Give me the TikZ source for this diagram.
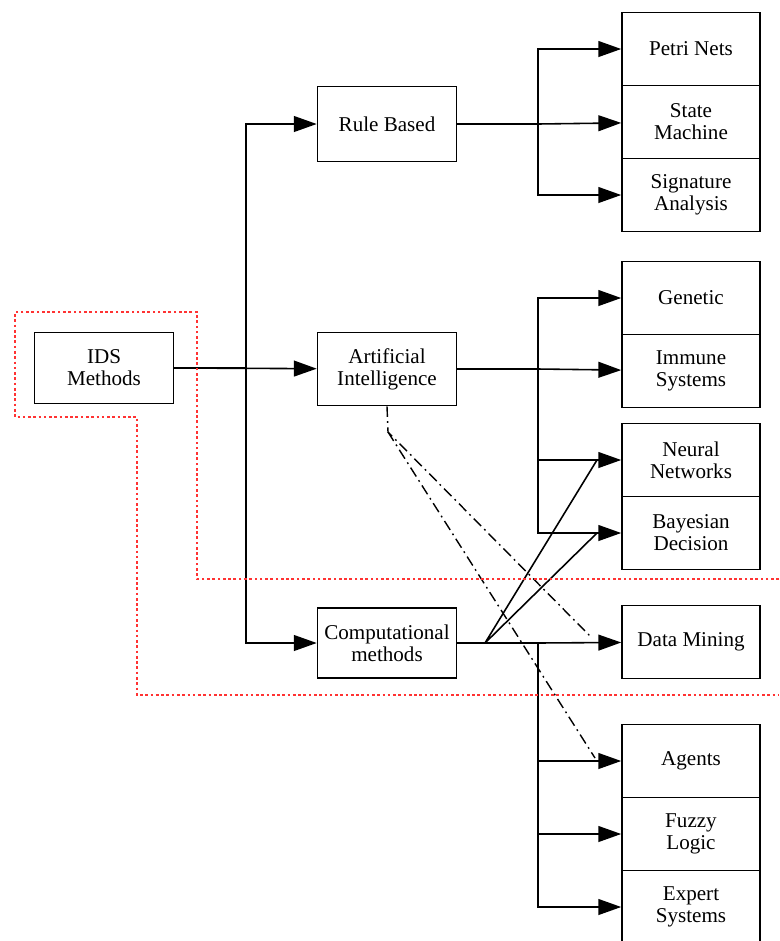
\documentclass[tikz,border=0pt]{standalone}
\usepackage{fontspec}
\setmainfont{Liberation Serif}
\usetikzlibrary{arrows.meta}
\tikzstyle{node_main} = [rectangle, draw, line width=0.9pt, align=center, minimum width=2.78cm, minimum height=1.46cm, inner sep=1pt, font=\fontsize{12}{12.5}\selectfont]
\tikzstyle{node_leaf} = [node_main, minimum width=2.76cm]
\tikzstyle{edge_normal} = [line width=0.9pt, -{Triangle[length=13pt,width=9pt]}]
\tikzstyle{edge_plain} = [line width=0.9pt]
\tikzstyle{edge_dashdot} = [line width=0.8pt, dash pattern=on 6pt off 2.5pt on 1pt off 2.5pt]
\tikzstyle{group_border} = [red!80, line width=0.6pt, dash pattern=on 1.5pt off 1.5pt]
\begin{document}
\begin{tikzpicture}[x=0.02cm, y=-0.02cm]
		\useasboundingbox (0,0) rectangle (779,941);
		\clip (0,0) rectangle (779,941);
		% first level
		\node (IDS) at (104,368) [node_main, minimum height=1.42cm] {IDS\\Methods};
		\node (RB) at (387,124) [node_main, minimum height=1.5cm] {Rule Based};
		\node (AI) at (387,369) [node_main] {Artificial\\Intelligence};
		\node (CM) at (387,643) [node_main, minimum height=1.4cm] {Computational\\methods};
		% leaves
		\node (PN) at (691,49) [node_leaf] {Petri Nets};
		\node (SM) at (691,122) [node_leaf] {State\\Machine};
		\node (SA) at (691,195) [node_leaf] {Signature\\Analysis};
		\node (GE) at (691,298) [node_leaf] {Genetic};
		\node (IS) at (691,371) [node_leaf] {Immune\\Systems};
		\node (NN) at (691,460) [node_leaf] {Neural\\Networks};
		\node (BD) at (691,533) [node_leaf] {Bayesian\\Decision};
		\node (DM) at (691,642) [node_leaf] {Data Mining};
		\node (AG) at (691,761) [node_leaf] {Agents};
		\node (FL) at (691,834) [node_leaf] {Fuzzy\\Logic};
		\node (ES) at (691,907) [node_leaf] {Expert\\Systems};
		
		\coordinate (ids_j) at (246,368);
		\coordinate (rb_j) at (538,124);
		\coordinate (ai_j) at (538,369);
		\coordinate (cm_j) at (538,643);
		\coordinate (cm_d) at (485,643);
		\coordinate (nn_in) at (597,460);
		\coordinate (bd_in) at (597,533);
		\coordinate (ai_s) at (388,432);
		\coordinate (dm_in) at (590,636);
		\coordinate (ag_in) at (595,758);
		
		\draw[edge_normal] (IDS.east) -- (ids_j) |- (RB);
		\draw[edge_normal] (IDS.east) -- (AI);
		\draw[edge_normal] (ids_j) |- (CM);
		
		\draw[edge_plain] (RB.east) -- (rb_j);
		\draw[edge_normal] (rb_j) |- (PN);
		\draw[edge_normal] (rb_j) -- (SM);
		\draw[edge_normal] (rb_j) |- (SA);
		
		\draw[edge_plain] (AI.east) -- (ai_j);
		\draw[edge_normal] (ai_j) |- (GE);
		\draw[edge_normal] (ai_j) -- (IS);
		\draw[edge_normal] (ai_j) |- (NN);
		\draw[edge_normal] (ai_j) |- (BD);
		
		\draw[edge_plain] (CM.east) -- (cm_j);
		\draw[edge_normal] (cm_j) -- (DM);
		\draw[edge_normal] (cm_j) |- (AG);
		\draw[edge_normal] (cm_j) |- (FL);
		\draw[edge_normal] (cm_j) |- (ES);
		\draw[edge_plain] (cm_d) -- (nn_in) (cm_d) -- (bd_in);
		
		\draw[edge_dashdot] (AI.south) -- (ai_s) -- (dm_in);
		\draw[edge_dashdot] (ai_s) -- (ag_in);
		
		% groups
		\draw[group_border] (779,579) -- (197,579) -- (197,312) -- (15,312) -- (15,417) -- (137,417) -- (137,695) -- (779,695);
		\end{tikzpicture}
\end{document}
